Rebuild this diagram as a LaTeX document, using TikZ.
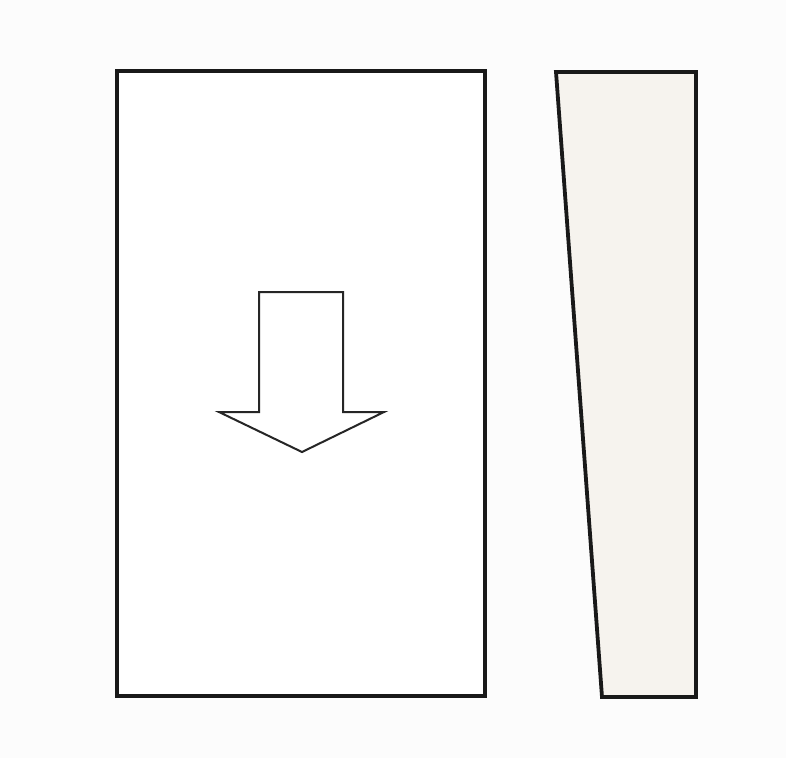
\documentclass[tikz,border=0pt]{standalone}
\definecolor{bg}{HTML}{FCFCFC}
\definecolor{wedgefill}{HTML}{F6F3EE}
\begin{document}
\begin{tikzpicture}[x=1pt,y=-1pt,
  outline/.style={draw=black!90,line width=3.8pt,line join=miter},
  arrowshape/.style={draw=black!85,line width=2pt,fill=white,line join=miter}]
\fill[bg] (0,0) rectangle (786,758);
\useasboundingbox (0,0) rectangle (786,758);
% main rectangle
\draw[outline,fill=white] (117,71) rectangle (485,696);
% wedge
\draw[outline,fill=wedgefill] (556,72) -- (696,72) -- (696,697) -- (602,697) -- cycle;
% down arrow
\draw[arrowshape] (259,292) -- (343,292) -- (343,412) -- (384,412) -- (302,452)
  -- (219,412) -- (259,412) -- cycle;
\end{tikzpicture}
\end{document}
